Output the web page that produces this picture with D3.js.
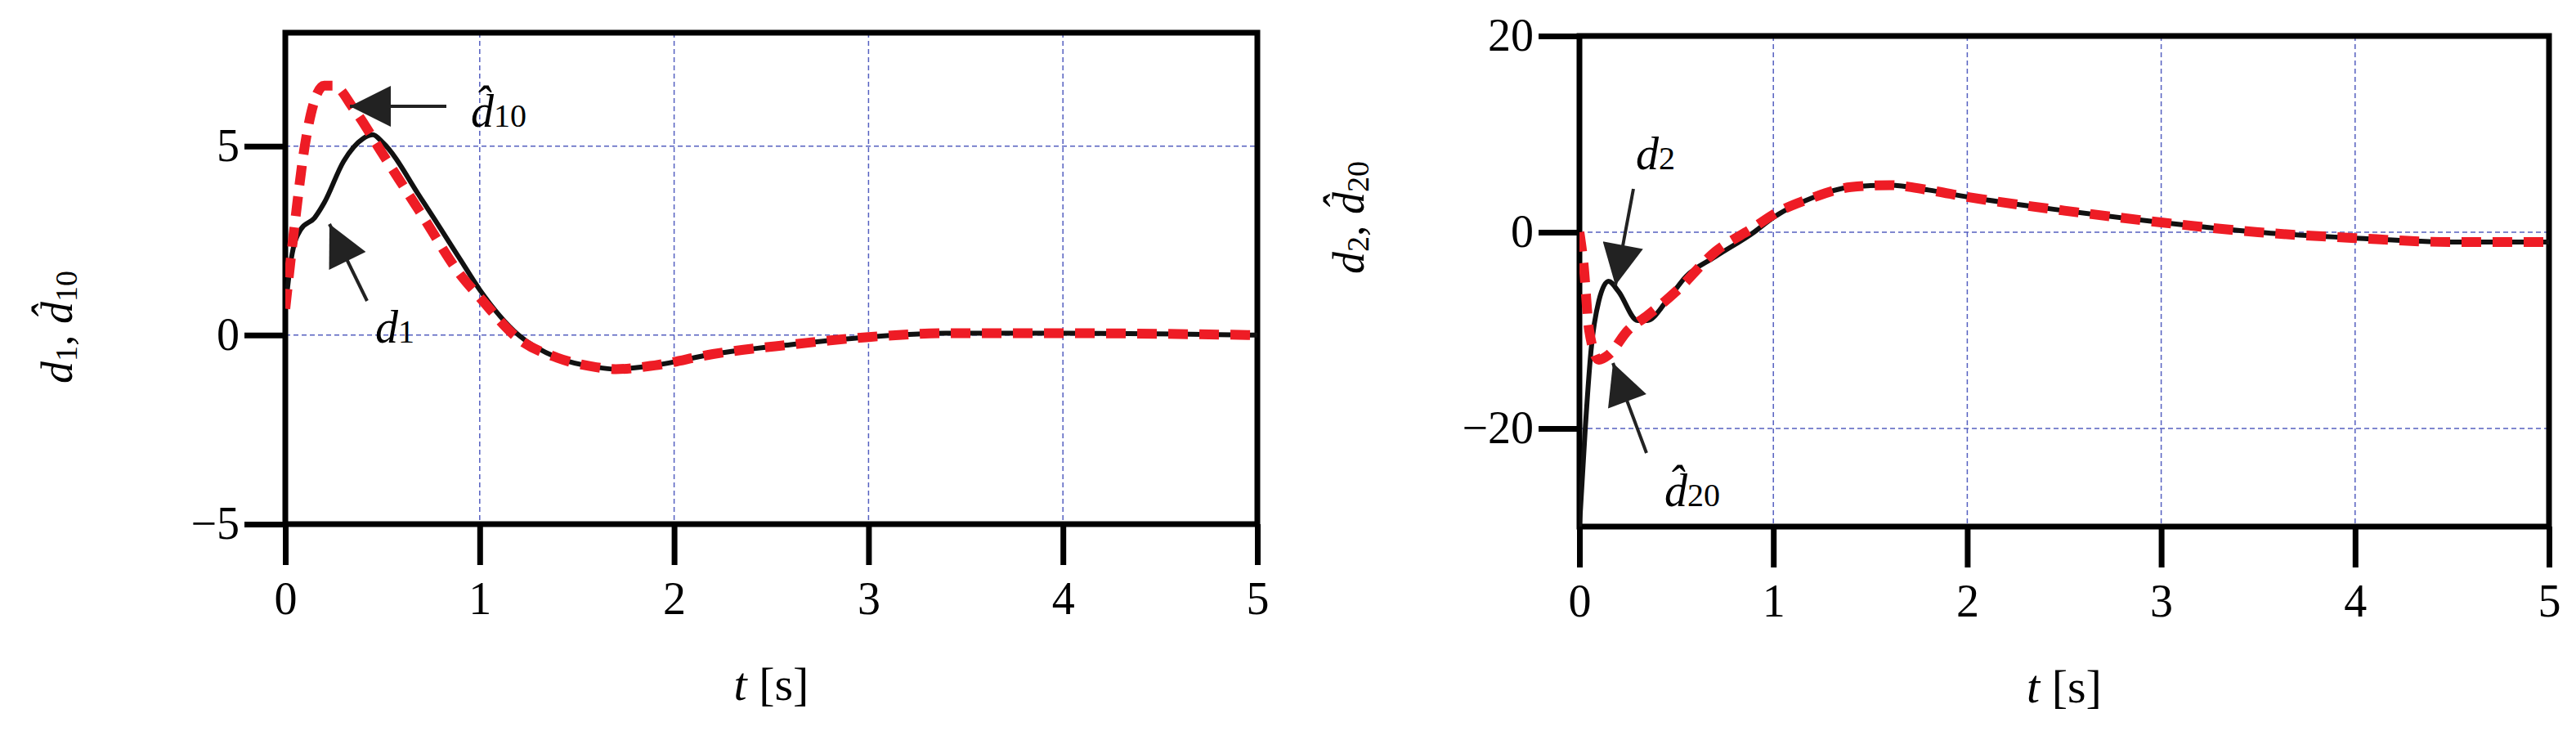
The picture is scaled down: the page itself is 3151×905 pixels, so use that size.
<!DOCTYPE html>
<html><head><meta charset="utf-8">
<script src="https://cdn.jsdelivr.net/npm/d3@7"></script>
<style>body{margin:0;background:#fff}</style>
</head><body>
<svg id="c" width="3151" height="905"></svg>
<script>
// data
const tTicks = [0, 1, 2, 3, 4, 5];
const y1Ticks = [-5, 0, 5];
const y2Ticks = [-20, 0, 20];

const t1 = [0, 0.03, 0.08, 0.15, 0.2, 0.3, 0.4, 0.45, 0.5, 0.7, 0.9, 1.0, 1.2, 1.4, 1.6, 1.7, 1.9, 2.2, 2.6, 3.0, 3.4, 4.0, 5.0];
const d1 = [0.7, 2.0, 2.8, 3.1, 3.5, 4.6, 5.2, 5.3, 5.1, 3.6, 2.0, 1.2, 0.0, -0.6, -0.85, -0.9, -0.8, -0.5, -0.25, -0.05, 0.05, 0.05, 0];
const t10 = [0, 0.05, 0.1, 0.15, 0.2, 0.25, 0.35, 0.5, 0.7, 0.9, 1.0, 1.2, 1.4, 1.6, 1.7, 1.9, 2.2, 2.6, 3.0, 3.4, 4.0, 5.0];
const d10 = [0.7, 3.0, 5.0, 6.2, 6.6, 6.6, 6.0, 4.8, 3.2, 1.6, 1.0, -0.1, -0.6, -0.85, -0.9, -0.8, -0.5, -0.25, -0.05, 0.05, 0.05, 0];

const t2 = [0, 0.03, 0.06, 0.1, 0.15, 0.2, 0.3, 0.35, 0.45, 0.55, 0.7, 0.9, 1.0, 1.2, 1.4, 1.6, 1.8, 2.0, 2.5, 3.0, 3.5, 4.0, 4.5, 5.0];
const d2 = [-30, -20, -12, -7, -5, -6, -9, -9, -7, -4.5, -2.5, 0, 1.5, 3.5, 4.6, 4.8, 4.3, 3.6, 2.2, 1.0, 0, -0.6, -1.0, -1.0];
const t20 = [0, 0.02, 0.05, 0.1, 0.15, 0.25, 0.35, 0.5, 0.7, 0.9, 1.0, 1.2, 1.4, 1.6, 1.8, 2.0, 2.5, 3.0, 3.5, 4.0, 4.5, 5.0];
const d20 = [0, -3, -10, -13, -12.5, -10, -8.5, -6, -2, 0.5, 1.8, 3.5, 4.6, 4.8, 4.3, 3.6, 2.2, 1.0, 0, -0.6, -1.0, -1.0];

const svg = d3.select('#c');
svg.append('defs').append('marker').attr('id', 'ah')
  .attr('viewBox', '0 0 10 10').attr('refX', 10).attr('refY', 5)
  .attr('markerWidth', 60).attr('markerHeight', 50).attr('markerUnits', 'userSpaceOnUse')
  .attr('orient', 'auto').append('path').attr('d', 'M0,0L10,5L0,10z').attr('fill', '#222');

const serif = 'Liberation Serif';

function panel(o) {
  const x = d3.scaleLinear().domain([0, 5]).range([o.x0, o.x1]);
  const y = d3.scaleLinear().domain(o.ydom).range([o.y1, o.y0]);
  const g = svg.append('g');

  // grid
  g.selectAll('.gx').data(tTicks.slice(1, -1)).enter().append('line')
    .attr('x1', d => x(d)).attr('x2', d => x(d)).attr('y1', o.y0).attr('y2', o.y1)
    .attr('stroke', '#5560c0').attr('stroke-width', 1.5).attr('stroke-dasharray', '6,4');
  g.selectAll('.gy').data(o.yticks.filter(d => y(d) > o.y0 + 2 && y(d) < o.y1 - 2)).enter().append('line')
    .attr('x1', o.x0).attr('x2', o.x1).attr('y1', d => y(d)).attr('y2', d => y(d))
    .attr('stroke', '#5560c0').attr('stroke-width', 1.5).attr('stroke-dasharray', '6,4');

  // axes
  const xa = g.append('g').attr('transform', `translate(0,${o.y1})`)
    .call(d3.axisBottom(x).tickValues(tTicks).tickSize(50).tickPadding(20).tickFormat(d3.format('d')));
  const ya = g.append('g').attr('transform', `translate(${o.x0},0)`)
    .call(d3.axisLeft(y).tickValues(o.yticks).tickSize(50).tickPadding(6).tickFormat(d => d < 0 ? '\u2212' + (-d) : d));
  [xa, ya].forEach(a => {
    a.select('.domain').remove();
    a.selectAll('line').attr('stroke', '#000').attr('stroke-width', 7);
    a.selectAll('text').attr('font-family', serif).attr('font-size', 56).attr('fill', '#000');
  });

  // frame
  g.append('rect').attr('x', o.x0).attr('y', o.y0).attr('width', o.x1 - o.x0).attr('height', o.y1 - o.y0)
    .attr('fill', 'none').attr('stroke', '#000').attr('stroke-width', 7);

  const clip = 'clip' + o.id;
  svg.append('clipPath').attr('id', clip).append('rect')
    .attr('x', o.x0).attr('y', o.y0 - 30).attr('width', o.x1 - o.x0 + 10).attr('height', o.y1 - o.y0 + 30);
  const line = d3.line().x(d => x(d[0])).y(d => y(d[1])).curve(d3.curveMonotoneX);
  g.append('path').datum(d3.zip(o.t, o.d)).attr('d', line).attr('clip-path', `url(#${clip})`)
    .attr('fill', 'none').attr('stroke', '#111').attr('stroke-width', 6);
  g.append('path').datum(d3.zip(o.th, o.dh)).attr('d', line).attr('clip-path', `url(#${clip})`)
    .attr('fill', 'none').attr('stroke', '#ee1c25').attr('stroke-width', 12).attr('stroke-dasharray', '24,14');

  // axis titles
  g.append('text').attr('x', (o.x0 + o.x1) / 2).attr('y', o.y1 + 215).attr('text-anchor', 'middle')
    .attr('font-family', serif).attr('font-size', 58)
    .html('<tspan font-style="italic">t</tspan> [s]');
  g.append('text').attr('transform', `translate(${o.ylx},${o.yly}) rotate(-90)`).attr('text-anchor', 'middle')
    .attr('font-family', serif).attr('font-size', 54).attr('font-style', 'italic')
    .html(o.ylab);

  // annotations
  o.notes.forEach(n => {
    g.append('line').attr('x1', n.from[0]).attr('y1', n.from[1]).attr('x2', n.to[0]).attr('y2', n.to[1])
      .attr('stroke', '#222').attr('stroke-width', 4).attr('marker-end', 'url(#ah)');
    g.append('text').attr('x', n.lx).attr('y', n.ly).attr('font-family', serif).attr('font-size', 56)
      .attr('font-style', 'italic').html(n.txt);
  });
}

panel({
  id: 1, x0: 349, x1: 1538, y0: 40, y1: 641, ydom: [-5, 8], yticks: y1Ticks,
  t: t1, d: d1, th: t10, dh: d10, ylx: 88, yly: 400,
  ylab: 'd<tspan font-style="normal" font-size="38" dy="6">1</tspan><tspan dy="-6" font-style="normal">, </tspan>d\u0302<tspan font-style="normal" font-size="38" dy="6">10</tspan>',
  notes: [
    { from: [546, 130], to: [428, 130], lx: 576, ly: 155, txt: 'd\u0302<tspan font-style="normal" font-size="40">10</tspan>' },
    { from: [449, 368], to: [403, 274], lx: 459, ly: 419, txt: 'd<tspan font-style="normal" font-size="40">1</tspan>' }
  ]
});
panel({
  id: 2, x0: 1932, x1: 3118, y0: 44, y1: 644, ydom: [-30, 20], yticks: y2Ticks,
  t: t2, d: d2, th: t20, dh: d20, ylx: 1668, yly: 266,
  ylab: 'd<tspan font-style="normal" font-size="38" dy="6">2</tspan><tspan dy="-6" font-style="normal">, </tspan>d\u0302<tspan font-style="normal" font-size="38" dy="6">20</tspan>',
  notes: [
    { from: [1998, 231], to: [1976, 349], lx: 2001, ly: 207, txt: 'd<tspan font-style="normal" font-size="40">2</tspan>' },
    { from: [2014, 554], to: [1973, 444], lx: 2036, ly: 619, txt: 'd\u0302<tspan font-style="normal" font-size="40">20</tspan>' }
  ]
});
</script>
</body></html>
